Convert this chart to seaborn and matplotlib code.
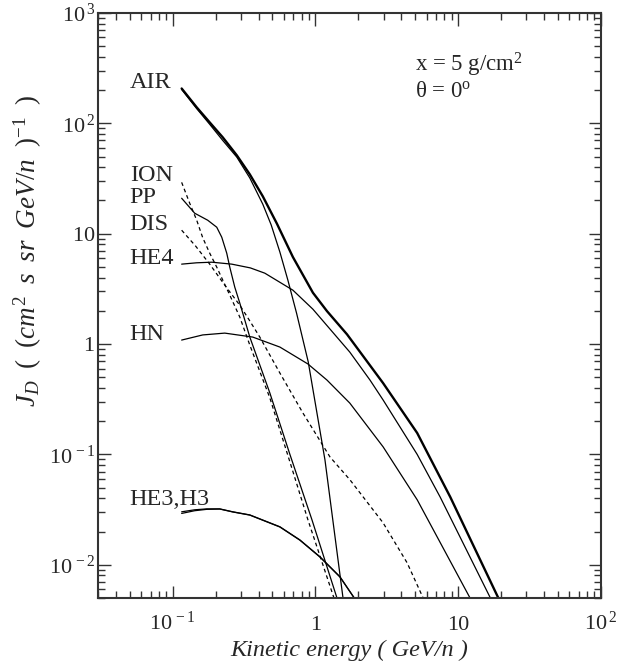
import pandas as pd
import seaborn as sns
from matplotlib import pyplot as plt
from matplotlib.ticker import FixedLocator, FixedFormatter, LogLocator, NullFormatter

# kinetic energy (GeV/n) and flux J_D, one pair of lists per curve
air_e = [0.1156, 0.1474, 0.1818, 0.2243, 0.2812, 0.347, 0.428, 0.537, 0.695, 0.960, 1.204, 1.664, 2.977, 5.157, 8.79, 19.1]
air_j = [207, 139.6, 102, 74.7, 51.4, 34.5, 21.8, 12.35, 6.15, 2.92, 1.99, 1.225, 0.443, 0.1565, 0.0412, 0.005]

air2_e = [0.1156, 0.1474, 0.1818, 0.2243, 0.2812, 0.347, 0.428, 0.49, 0.564, 0.641, 0.738, 0.890, 1.166, 1.56]
air2_j = [203, 136, 98, 70, 49.5, 32, 18.5, 12, 6.8, 3.8, 1.9, 0.691, 0.0892, 0.005]

ion_e = [0.1156, 0.1316, 0.1474, 0.1624, 0.1818, 0.2036, 0.2243, 0.2512, 0.2953, 0.347, 0.4796, 0.6625, 0.886, 1.348]
ion_j = [29.2, 18.9, 13.25, 9.2, 6.66, 4.98, 3.80, 2.78, 1.755, 0.979, 0.3246, 0.0855, 0.02554, 0.005]

pp_e = [0.1156, 0.1427, 0.176, 0.2036, 0.2207, 0.2392, 0.2512, 0.2723, 0.2953, 0.347, 0.4796, 0.6625, 0.945, 1.415]
pp_j = [20.96, 15.33, 13.25, 11.45, 9.30, 6.66, 4.98, 3.28, 2.35, 1.157, 0.360, 0.100, 0.0256, 0.005]

dis_e = [0.1156, 0.145, 0.1818, 0.2317, 0.2953, 0.347, 0.4076, 0.5636, 0.8171, 1.264, 1.746, 2.977, 4.386, 5.68]
dis_j = [10.76, 7.71, 5.30, 3.42, 2.25, 1.62, 1.157, 0.5464, 0.2374, 0.0949, 0.0588, 0.024, 0.01042, 0.005]

he4_e = [0.1156, 0.147, 0.188, 0.2594, 0.35, 0.442, 0.695, 0.96, 1.74, 2.41, 2.98, 5.16, 7.48, 16.8]
he4_j = [5.30, 5.45, 5.52, 5.30, 4.9, 4.39, 3.08, 2.07, 0.846, 0.472, 0.311, 0.100, 0.041, 0.005]

hn_e = [0.1156, 0.1624, 0.2317, 0.364, 0.564, 0.886, 1.204, 1.74, 2.98, 5.16, 12.1]
hn_j = [1.087, 1.21, 1.257, 1.157, 0.939, 0.66, 0.472, 0.292, 0.117, 0.0388, 0.005]

he3_e = [0.1156, 0.1427, 0.1732, 0.2137, 0.2637, 0.347, 0.5636, 0.7784, 1.0755, 1.485, 1.87]
he3_j = [0.0302, 0.0315, 0.0321, 0.0321, 0.0302, 0.0283, 0.0221, 0.0168, 0.01181, 0.00779, 0.005]

h3_e = [0.1156, 0.1427, 0.1732, 0.2137, 0.2637, 0.347, 0.5636, 0.7784, 1.0755, 1.485, 1.87]
h3_j = [0.0292, 0.0309, 0.0318, 0.0320, 0.0301, 0.0282, 0.0220, 0.0167, 0.01175, 0.00775, 0.005]

# label text and where its baseline sits (flux at E = 0.05 GeV/n)
labels = ["AIR", "ION", "PP", "DIS", "HE4", "HN", "HE3,H3"]
label_j = [207, 29.9, 18.9, 10.8, 5.3, 1.09, 0.0349]

xticks = [0.1, 1, 10, 100]
xtick_labels = [r"$10^{\,-1}$", "1", "10", r"$10^{\,2}$"]
yticks = [0.01, 0.1, 1, 10, 100, 1000]
ytick_labels = [r"$10^{\,-2}$", r"$10^{\,-1}$", r"$1\ \ \ \ \ $", r"$10\ \ \ \ \ $", r"$10^{\,2}$", r"$10^{\,3}$"]

curves = [
    ("air", air_e, air_j, 1.7, "-"),
    ("air2", air2_e, air2_j, 0.9, "-"),
    ("ion", ion_e, ion_j, 0.9, (0, (3, 2.5))),
    ("pp", pp_e, pp_j, 0.9, "-"),
    ("dis", dis_e, dis_j, 0.9, (0, (3, 2.5))),
    ("he4", he4_e, he4_j, 0.9, "-"),
    ("hn", hn_e, hn_j, 0.9, "-"),
    ("he3", he3_e, he3_j, 0.9, "-"),
    ("h3", h3_e, h3_j, 0.9, "-"),
]

sns.set_theme(style="ticks")
plt.rcParams['font.family'] = ['Liberation Serif', 'DejaVu Serif']
plt.rcParams['mathtext.fontset'] = 'custom'
plt.rcParams['mathtext.rm'] = 'Liberation Serif'
plt.rcParams['mathtext.it'] = 'Liberation Serif:italic'
plt.rcParams['mathtext.bf'] = 'Liberation Serif:bold'

fig = plt.figure(figsize=(6.43, 6.69), dpi=100)
ax = fig.add_axes([98 / 643, 1 - 598 / 669, 503 / 643, 585 / 669])

for name, e, j, lw, ls in curves:
    df = pd.DataFrame({"energy": e, "flux": j})
    sns.lineplot(data=df, x="energy", y="flux", ax=ax, color="black", lw=lw,
                 linestyle=ls, sort=False, estimator=None)

ax.set_xscale("log")
ax.set_yscale("log")
ax.set_xlim(0.03, 100)
ax.set_ylim(0.005, 1000)

ax.xaxis.set_major_locator(FixedLocator(xticks))
ax.xaxis.set_major_formatter(FixedFormatter(xtick_labels))
ax.yaxis.set_major_locator(FixedLocator(yticks))
ax.yaxis.set_major_formatter(FixedFormatter(ytick_labels))
ax.xaxis.set_minor_locator(LogLocator(base=10, subs=range(2, 10)))
ax.yaxis.set_minor_locator(LogLocator(base=10, subs=range(2, 10)))
ax.xaxis.set_minor_formatter(NullFormatter())
ax.yaxis.set_minor_formatter(NullFormatter())

ax.tick_params(which="both", direction="in", top=True, right=True, width=1.0, color="#333333")
ax.tick_params(which="major", length=9)
ax.tick_params(which="minor", length=5)
ax.tick_params(axis="x", which="major", labelsize=16, pad=23)
ax.tick_params(axis="y", which="major", labelsize=16, pad=2)
for lab in ax.get_xticklabels():
    lab.set_verticalalignment("baseline")

for sp in ax.spines.values():
    sp.set_linewidth(1.5)
    sp.set_color("#333333")

for txt, yv in zip(labels, label_j):
    ax.text(0.05, yv, txt, fontsize=17.5, ha="left", va="baseline")

ax.text(5, 296, r"x = 5 g/cm$^2$", fontsize=16.5, ha="left", va="baseline")
ax.text(5, 172, r"θ = 0$^{\rm o}$", fontsize=16.5, ha="left", va="baseline")

ax.set_xlabel("Kinetic energy ( GeV/n )", fontsize=17.5, style="italic", va="center")
ax.xaxis.set_label_coords(0.5, -0.09)
ax.set_ylabel(r"$J_D\;\ (\;\ (cm^2\;\ s\;\ sr\;\ GeV/n\;\ )^{-1}\;\ )$", fontsize=19.5, va="center")
ax.yaxis.set_label_coords(-0.139, 0.593)

fig.savefig("out.png", dpi=100)
